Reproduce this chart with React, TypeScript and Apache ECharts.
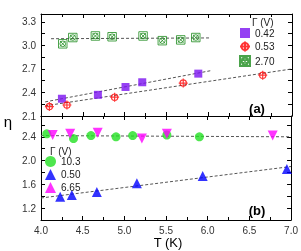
import React, { useEffect, useRef } from 'react';
import * as echarts from 'echarts';

// Panel (a)
const tPurple = [4.25, 4.68, 5.01, 5.21, 5.88];
const etaPurple = [2.32, 2.37, 2.47, 2.53, 2.64];
const tRed = [4.1, 4.31, 4.88, 5.7, 6.65];
const etaRed = [2.22, 2.24, 2.34, 2.52, 2.62];
const tGreenA = [4.26, 4.38, 4.65, 4.85, 5.22, 5.45, 5.67, 5.85];
const etaGreenA = [3.02, 3.1, 3.12, 3.11, 3.12, 3.06, 3.07, 3.1];
const fitPurpleT = [4.05, 6.04];
const fitPurpleEta = [2.28, 2.68];
const fitRedT = [4.05, 7.0];
const fitRedEta = [2.23, 2.7];
const fitGreenAT = [4.12, 6.02];
const fitGreenAEta = [3.085, 3.095];

// Panel (b)
const tGreenB = [4.07, 4.39, 4.6, 4.9, 5.1, 5.51, 5.9];
const etaGreenB = [2.45, 2.37, 2.42, 2.4, 2.42, 2.43, 2.4];
const tBlue = [4.23, 4.37, 4.67, 5.15, 5.94, 6.95];
const etaBlue = [1.39, 1.42, 1.47, 1.62, 1.74, 1.86];
const tMagenta = [4.14, 4.35, 4.68, 5.21, 5.51, 6.78];
const etaMagenta = [2.43, 2.45, 2.47, 2.37, 2.45, 2.42];
const fitBlueT = [4.0, 7.0];
const fitBlueEta = [1.37, 1.9];
const fitFlatT = [4.0, 7.0];
const fitFlatEta = [2.42, 2.4];

const namesA = ['0.42', '0.53', '2.70'];
const namesB = ['10.3', '0.50', '6.65'];
const yLabelsA = [2.1, 2.4, 2.7, 3.0, 3.3];
const yLabelsB = [1.2, 1.6, 2.0, 2.4];

const FONT = 'Liberation Sans, Arial, sans-serif';

const zip = (a: number[], b: number[]) => a.map((v, i) => [v, b[i]]);

const redSym = 'path://M3,10 A7,7 0 1,0 17,10 A7,7 0 1,0 3,10 Z M10,0 L10,20 M0,10 L20,10';
const greenSym = 'path://M1,1 L19,1 L19,19 L1,19 Z M4,10 A6,6 0 1,0 16,10 A6,6 0 1,0 4,10 Z M4,4 L16,16 M16,4 L4,16';

export default function App() {
  const ref = useRef<HTMLDivElement>(null);
  useEffect(() => {
    if (!ref.current) return;
    const chart = echarts.init(ref.current, undefined, { renderer: 'svg' });
    const axisLine = { show: true, lineStyle: { color: '#000', width: 1 } };
    const tick = { show: true, inside: true, length: 4, lineStyle: { color: '#000' } };
    const minor = { show: true, splitNumber: 2, length: 3, lineStyle: { color: '#000' } };
    const xBase = (grid: number, pos: string, labels: boolean) => ({
      type: 'value', gridIndex: grid, position: pos, min: 4, max: 7, interval: 0.5,
      axisLine, axisTick: tick, minorTick: minor, splitLine: { show: false },
      axisLabel: labels
        ? { show: true, color: '#333', fontSize: 10, fontFamily: FONT, margin: 5, formatter: (v: number) => v.toFixed(1) }
        : { show: false },
    });
    const yA = (pos: string, labels: boolean) => ({
      type: 'value', gridIndex: 0, position: pos, min: 2.1, max: 3.4, interval: 0.15,
      axisLine, axisTick: tick, splitLine: { show: false },
      axisLabel: labels
        ? { show: true, customValues: yLabelsA, color: '#333', fontSize: 10, fontFamily: FONT, margin: 5, formatter: (v: number) => v.toFixed(1) }
        : { show: false },
    });
    const yB = (pos: string, labels: boolean) => ({
      type: 'value', gridIndex: 1, position: pos, min: 1.0, max: 2.75, interval: 0.2,
      axisLine, axisTick: tick, splitLine: { show: false },
      axisLabel: labels
        ? { show: true, customValues: yLabelsB, color: '#333', fontSize: 10, fontFamily: FONT, margin: 5, formatter: (v: number) => v.toFixed(1) }
        : { show: false },
    });
    const dash = (name: string, x: number, y: number, t: number[], e: number[]) => ({
      name, type: 'line', xAxisIndex: x, yAxisIndex: y, data: zip(t, e), symbol: 'none',
      lineStyle: { color: '#555', width: 1, type: [3, 2] }, z: 1, silent: true,
    });
    chart.setOption({
      animation: false,
      grid: [
        { left: 41, right: 9, top: 14, height: 102 },
        { left: 41, right: 9, top: 116, height: 104 },
      ],
      xAxis: [xBase(0, 'bottom', false), xBase(0, 'top', false), xBase(1, 'bottom', true), xBase(1, 'top', false)],
      yAxis: [yA('left', true), yA('right', false), yB('left', true), yB('right', false)],
      legend: [
        {
          data: namesA, orient: 'vertical', left: 239, top: 28, padding: 0, itemWidth: 10, itemHeight: 10, itemGap: 2.5,
          textStyle: { fontSize: 10, fontFamily: FONT, color: '#222' },
        },
        {
          data: namesB, orient: 'vertical', left: 45, top: 156, padding: 0, itemWidth: 11, itemHeight: 11, itemGap: 2,
          textStyle: { fontSize: 10, fontFamily: FONT, color: '#222' },
        },
      ],
      series: [
        dash('fitP', 0, 0, fitPurpleT, fitPurpleEta),
        dash('fitR', 0, 0, fitRedT, fitRedEta),
        dash('fitG', 0, 0, fitGreenAT, fitGreenAEta),
        dash('fitB', 2, 2, fitBlueT, fitBlueEta),
        dash('fitF', 2, 2, fitFlatT, fitFlatEta),
        {
          name: namesA[0], type: 'scatter', xAxisIndex: 0, yAxisIndex: 0, data: zip(tPurple, etaPurple),
          symbol: 'rect', symbolSize: 8, itemStyle: { color: '#7b12f0' },
        },
        {
          name: namesA[1], type: 'scatter', xAxisIndex: 0, yAxisIndex: 0, data: zip(tRed, etaRed),
          symbol: redSym, symbolSize: 9, itemStyle: { color: 'rgba(255,255,255,0)', borderColor: '#ff0000', borderWidth: 1.2 },
        },
        {
          name: namesA[2], type: 'scatter', xAxisIndex: 0, yAxisIndex: 0, data: zip(tGreenA, etaGreenA),
          symbol: greenSym, symbolSize: 8.5, itemStyle: { color: 'rgba(255,255,255,0)', borderColor: '#1e8c1e', borderWidth: 1 },
        },
        {
          name: namesB[0], type: 'scatter', xAxisIndex: 2, yAxisIndex: 2, data: zip(tGreenB, etaGreenB),
          symbol: 'circle', symbolSize: 9, itemStyle: { color: '#22e022' },
        },
        {
          name: namesB[1], type: 'scatter', xAxisIndex: 2, yAxisIndex: 2, data: zip(tBlue, etaBlue),
          symbol: 'triangle', symbolSize: 10, itemStyle: { color: '#0000ff' },
        },
        {
          name: namesB[2], type: 'scatter', xAxisIndex: 2, yAxisIndex: 2, data: zip(tMagenta, etaMagenta),
          symbol: 'triangle', symbolRotate: 180, symbolSize: 10, itemStyle: { color: '#ff00ff' },
        },
      ],
      graphic: [
        { type: 'text', x: 252, y: 22, style: { text: 'Γ (V)', fontSize: 10, fontFamily: FONT, fill: '#222', textVerticalAlign: 'middle' } },
        { type: 'text', x: 50, y: 151, style: { text: 'Γ (V)', fontSize: 10, fontFamily: FONT, fill: '#222', textVerticalAlign: 'middle' } },
        { type: 'text', x: 257, y: 108, style: { text: '(a)', fontSize: 13, fontWeight: 'bold', fontFamily: FONT, fill: '#000', textAlign: 'center', textVerticalAlign: 'middle' } },
        { type: 'text', x: 257, y: 210, style: { text: '(b)', fontSize: 13, fontWeight: 'bold', fontFamily: FONT, fill: '#000', textAlign: 'center', textVerticalAlign: 'middle' } },
        { type: 'text', x: 168, y: 242, style: { text: 'T (K)', fontSize: 13, fontFamily: FONT, fill: '#000', textAlign: 'center', textVerticalAlign: 'middle' } },
        { type: 'text', x: 8, y: 121, style: { text: 'η', fontSize: 15, fontFamily: FONT, fill: '#000', textAlign: 'center', textVerticalAlign: 'middle' } },
      ],
    });
    return () => chart.dispose();
  }, []);
  return <div ref={ref} style={{ width: 301, height: 251, position: 'fixed', left: 0, top: 0 }} />;
}
